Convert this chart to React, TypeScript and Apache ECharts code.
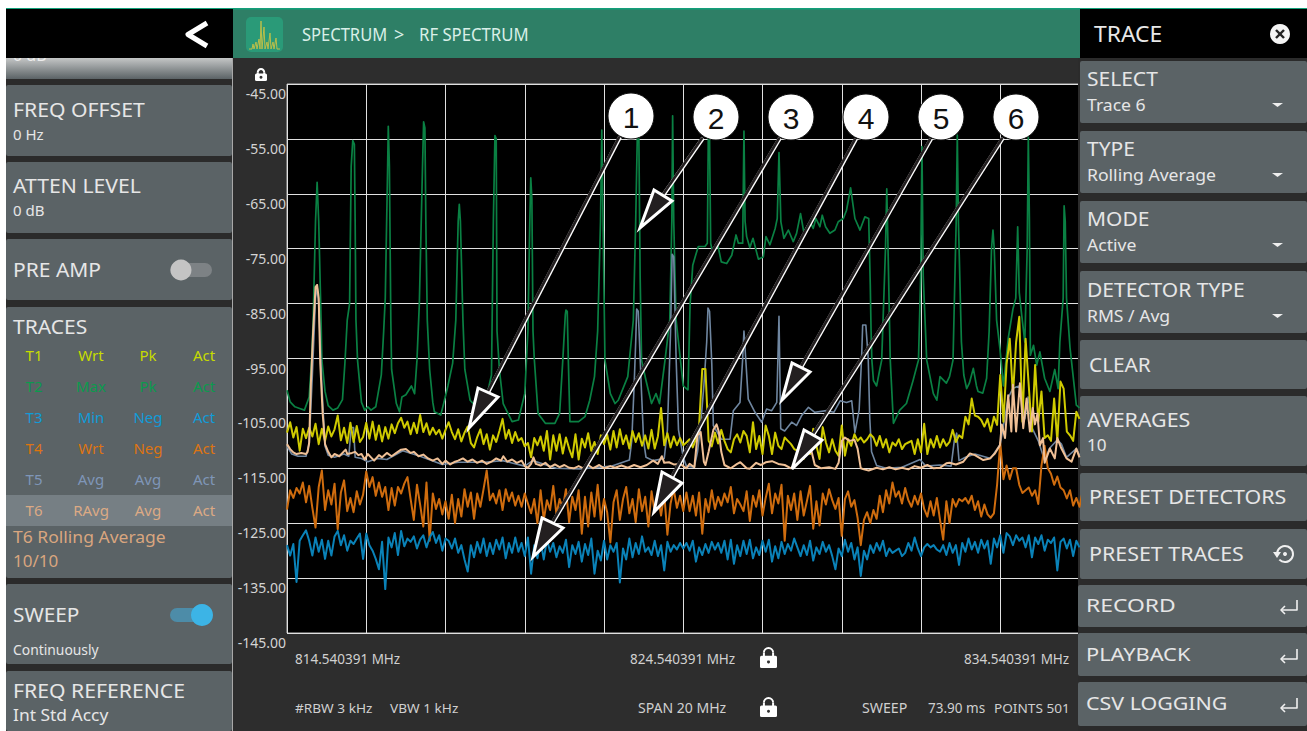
import React, { useEffect, useRef } from "react";
import * as echarts from "echarts";

const yTicks = [-145, -135, -125, -115, -105, -95, -85, -75, -65, -55, -45];
const freqLabels = ["814.540391 MHz", "824.540391 MHz", "834.540391 MHz"];

// T1 write, detector peak: one value every 2 sweep points
const yellowLeft = [-108.5,-106.6,-109.4,-107.5,-111.8,-107.8,-109.5,-107.6,-109.2,-106.9,-110.6,-107.8,-110,-107.4,-109.2,-107.9,-105.4,-109.9,-107.6,-110.4,-106.7,-110.2,-107.3,-110.2,-109.3,-106.7,-109.6,-106.5,-109.8,-107.2,-110.1,-107.5,-109.6,-107,-108.6,-106.8,-105.8,-107.6,-106.5,-108.8,-106.7,-108.6,-105.3,-108.4,-106.8,-108.9,-107.6,-108.8,-108,-109.6,-108,-106.6,-108.4,-109.7,-107.9,-110.1,-108.5,-107.4,-110.4,-111.2,-109.3,-107.9,-110.6,-108.8,-111.6,-109,-110.2,-108.2,-106,-109.6,-108,-110.4,-108.4,-110,-109.5,-111,-110.4,-113,-109.5,-110.8,-109.2,-111.8,-108.2,-113.4,-109,-111.8,-108.8,-112.3,-109.4,-111.4,-113,-108.8,-113.4,-109.6,-111.2,-108.6,-111.8,-110.2,-112.4,-109,-110.6,-108.9,-111.6,-108.2,-111.2,-107.9,-110.6,-109,-111.4,-108.2,-110.2,-108.6,-110.9,-109,-111.4,-108,-111.4,-109.2,-104,-110.8,-108.6,-111.2,-109.2,-110.8,-109.5,-110.8];
const yellowRight = [-110.3,-109.7,-111.2,-109.7,-107.2,-96.9,-96.9,-110,-111,-108.5,-110.5,-108,-110,-111.5,-112.1,-109.7,-108.8,-110.3,-108.2,-109.1,-112.1,-106.6,-111.5,-109.1,-112.4,-107.2,-109.1,-112.4,-108.5,-110.9,-111.5,-109.4,-110,-110.6,-111.5,-111.8,-110.3,-113.3,-109.4,-112.4,-107.8,-110.9,-113.3,-107.5,-110.3,-112.1,-109.7,-111.8,-112.7,-107.2,-112.7,-109.7,-110.9,-108.8,-110,-109.4,-110.3,-109.7,-108.8,-109.4,-110.9,-109.1,-111.2,-109.7,-112.1,-110.3,-110.9,-109.7,-111.5,-110.6,-110.3,-110,-112.4,-109.7,-112.1,-106.9,-112.4,-109.7,-111.2,-109.1,-111.2,-109.7,-110.9];
const yellowTail = [-110.2,-108,-110.2,-109,-109.5,-105.6,-107,-102.3,-105.4,-105.6,-106.2,-107.4,-106,-108.3,-105.6,-107.1,-98,-106.5,-96,-91.4,-101.7,-92,-87.4,-106.5,-91.4,-100,-108.3,-96.2,-106.5,-101,-109.5,-109,-110,-102.3,-110,-99.2,-100.5,-108.3,-109,-110,-104.7,-106];

// T4 write, detector negative
const orangeLeft = [-122.5,-119,-120.4,-118.6,-119.6,-117.6,-121.2,-118.2,-122.2,-125.8,-118.4,-115.4,-122.6,-119,-121.6,-117.8,-126.1,-119.4,-117.2,-122.8,-120.4,-123,-119.2,-121.6,-119.8,-115.6,-118.4,-116.6,-120,-117.6,-120.2,-118.4,-122.6,-118.6,-121.8,-118.4,-119.6,-117.8,-116.6,-120.6,-124.4,-118,-121.6,-125.6,-117.6,-128.2,-119.6,-122.4,-120.6,-123.4,-121,-124.2,-119.8,-125,-120.6,-123.8,-118.8,-122,-119.4,-124.2,-119.6,-122,-118.8,-115.4,-120.8,-119.6,-121.4,-119,-122.6,-118.8,-121,-119.4,-121.8,-120,-122,-119.6,-121.4,-123.2,-120.6,-125,-119,-124.4,-120.8,-122.6,-118.2,-123.4,-120.6,-122.2,-118.8,-124.8,-120.2,-122.6,-119,-126.9,-120.2,-125.6,-119.4,-123.8,-118,-124.4,-120.6,-123,-128.5,-121.2,-119,-124.4,-120.6,-118.4,-123.2,-120.6,-124.8,-118.8,-122.8,-120.2,-125.6,-119.2,-123,-120,-123.6,-119.6,-127.1,-121.4,-118.8,-122.2,-120,-122.8];
const orangeRight = [-119.4,-122.8,-120,-123.6,-119.4,-126.9,-120.6,-123,-119,-122.4,-120.2,-121.8,-119.6,-121.2,-118.4,-123.2,-120.6,-121.6,-122.8,-119.2,-124.6,-120,-122,-119,-123.6,-120.4,-117.8,-123.2,-119.6,-121.4,-118,-128.2,-120,-122.6,-119.6,-124.4,-119.2,-123.6,-121,-118.2,-126,-121,-125.4,-119.6,-121.6,-118.8,-120.8,-122.4,-120.4,-127.3,-120.6,-119.2,-122,-120.8,-124,-129,-124.4,-123,-125,-122.6,-124.2,-120,-123,-119,-121.4,-117.6,-120.2,-119.2,-121.4,-118.6,-120.8,-122,-120,-121.6,-119.6,-122.4,-123.8,-121,-123.6,-120.4,-124.4,-128,-121,-125,-120.6,-122,-120.6,-121,-120.4,-121.4,-120,-122.6,-121,-123.8,-121.6,-123.4,-124,-123.2,-118,-110.3,-117,-114.5,-117,-115,-115,-118,-119.5,-119,-118.5,-120,-119,-121.5,-114.5,-110.9,-115,-116,-118,-116.5,-118.5,-119,-120.5,-119,-121.8,-120.4,-122,-119.2,-120.8];

// T3 min hold, detector negative
const blueLeft = [-129,-130.9,-128.8,-135.7,-128.2,-127.2,-126.3,-128.2,-130.9,-127.6,-130.2,-128,-131.5,-128.2,-130.9,-127.4,-126.4,-129,-127.2,-130,-128.2,-128.8,-127.8,-126.9,-131.5,-126.9,-129,-130,-131.5,-133.4,-128.4,-137,-127.6,-129.4,-126.8,-130.8,-126.4,-129.2,-127.8,-128.4,-127.4,-129.6,-128,-127.2,-129.4,-127.6,-126.6,-128.6,-127.2,-130,-127.8,-128.2,-129.6,-127.8,-130.4,-129,-131.6,-133.8,-129,-131.2,-128.4,-130.4,-127.8,-131,-128.6,-130.6,-128,-129.8,-127.6,-131.4,-128.6,-130.4,-127.6,-130.2,-128.6,-131,-127.6,-134.2,-129,-131.4,-128.2,-131.6,-128,-130.2,-128.6,-131.2,-129.2,-130.4,-128,-133,-129,-130.6,-128.4,-132,-128.8,-130.8,-127.8,-134.2,-130,-131.8,-128.2,-131.6,-129,-130.2,-128.6,-135.8,-129.6,-131.6,-127.8,-131.2,-128.6,-130.6,-127.4,-130.2,-129.4,-130.8,-128.2,-131,-129,-133.6,-128.4,-130.2,-129,-129.8,-128.6,-129.6];
const blueRight = [-128.6,-130,-128.2,-132,-129.4,-130.8,-128.8,-130.4,-128.4,-129.8,-128.6,-130.4,-128.2,-131.6,-128,-132.4,-129,-131,-128.2,-130.6,-128,-131.4,-129.4,-130.8,-128.2,-130.2,-128,-132,-129.2,-131.4,-128.4,-130.6,-128.8,-130,-127.8,-129.4,-131,-129,-130.8,-128.2,-131.8,-129.4,-130.6,-128.4,-130.2,-129,-131,-133.4,-129.6,-131,-128,-130.2,-128.6,-131.6,-129.4,-134.6,-130,-131.6,-129,-130.4,-128.6,-130,-128.2,-131,-129.6,-130.4,-130,-129.6,-131,-130.4,-128.6,-130,-127.6,-129.6,-131,-129.4,-128.8,-129.4,-129,-129.8,-130.2,-129,-130.8,-128.6,-130.4,-129,-132.6,-128.6,-130.2,-127.8,-129.8,-128.4,-130.4,-128,-129.6,-128.2,-132.4,-127.8,-129.4,-127.2,-130.4,-126.8,-127.4,-129,-127.2,-128.2,-127.6,-129.4,-127.2,-131.2,-127.6,-128.8,-127.2,-130,-128,-128.6,-127.6,-133.6,-128.4,-127.8,-129.6,-128,-131,-128.2,-129.4];

// T2 max hold: [sweep point, dBm]
const greenTrace = [[0,-100.8],[2,-102.9],[5,-103.8],[8,-104.1],[11,-104.4],[14,-102],[15.5,-95.3],[16.5,-88],[18,-70],[19,-62.9],[20,-70],[21.5,-88],[22,-95.3],[24,-101],[26,-103.6],[29,-104.4],[32,-104],[35,-102.5],[36.5,-96],[38,-88],[39.5,-85],[40.5,-60],[41.5,-55.3],[42.5,-56],[43,-70],[43.5,-88],[44.5,-95.3],[46,-100],[47,-103],[49,-104.4],[51,-103.8],[53,-104.4],[56,-103.8],[59.5,-98],[61,-90],[62,-84],[63.5,-60],[63.9,-52.7],[64.6,-60],[65.5,-88],[66,-97],[69,-103.2],[71,-104.7],[72.5,-102],[75,-101.6],[78.5,-100],[80.5,-101.4],[82,-95.3],[83.5,-85],[85.5,-60],[86.2,-51.9],[87,-53],[87.6,-70],[88.5,-88],[90,-97],[92,-103],[93,-104.7],[97,-105.3],[99,-103],[101.5,-100],[104.5,-95.9],[106.5,-88],[108,-70],[108.7,-66.9],[109.4,-70],[111,-88],[112.2,-97],[115.5,-102.6],[119.5,-103.8],[125,-103.2],[129,-98],[130.2,-70],[131.2,-54.4],[132,-55],[132.5,-90],[134,-97],[136.4,-103.2],[138.4,-104.4],[142,-106.5],[146,-106.2],[150,-101.4],[152,-90],[153.2,-70],[153.8,-62.1],[154.5,-66],[155.2,-90],[156,-95],[158.4,-105],[163,-106.8],[169,-106.8],[172,-105],[174,-95.3],[175.6,-87],[176,-86.2],[176.8,-86.4],[177.5,-95.3],[178.5,-106.5],[184,-106.5],[188,-105.6],[191,-102.6],[194,-98.3],[196,-90],[197.8,-70],[198.6,-53.4],[199.4,-70],[200.6,-95.3],[204,-101.4],[207,-103.2],[209,-102.6],[215,-98.3],[218.5,-88],[220,-70],[221,-54.8],[222,-55],[222.8,-80],[223.7,-95.3],[226.5,-99],[230,-103.2],[232.8,-101.4],[235,-103.2],[238.5,-95.3],[241.5,-88],[242.8,-70],[243.3,-50.8],[244,-70],[245.5,-88],[247,-92],[250,-100],[253,-100.7],[254.3,-85.3],[256,-78],[257.5,-76.5],[259.5,-74.6],[263.7,-74.6],[265.2,-74],[265.8,-54.7],[266.6,-55],[267.3,-74],[268,-75],[272,-74.6],[274,-77.4],[277.4,-77.7],[280.6,-76.2],[283.3,-72.5],[284.8,-74],[287.5,-74],[288.3,-53.6],[289,-70],[290,-72.8],[292,-74.8],[294,-73.1],[297.4,-76.9],[300.5,-76.5],[302.2,-72.8],[304.7,-74.3],[308,-71.3],[309.3,-69.5],[310.4,-57.5],[311.6,-70.1],[313.5,-73.1],[316.3,-71.6],[319.4,-73.7],[321.5,-72.2],[324,-68.6],[326,-71.9],[330,-70.1],[332,-71.3],[333.7,-69.5],[336.2,-71],[337.7,-68.9],[339.8,-71],[342.5,-72.2],[345.7,-71.6],[347.8,-70.1],[351,-69.5],[353,-68],[355.6,-63.9],[358.3,-69.5],[361.5,-71.6],[364.6,-69.2],[367,-69.5],[368,-81.6],[368.5,-90],[369,-95.3],[370,-99],[372,-100],[374,-97],[375.2,-95.3],[377.6,-75],[378.4,-64.1],[379.2,-75],[380.6,-95.3],[382.6,-106.8],[386.6,-104.4],[390.8,-103.2],[395,-99],[398.4,-95.3],[399.8,-80],[400.6,-56.4],[401.4,-80],[403.6,-95.3],[407.8,-101.4],[410,-102.6],[412,-98.3],[416,-99.5],[418,-98.3],[420.2,-95.3],[422.2,-70],[422.9,-54.3],[423.6,-70],[425.5,-92],[427,-98],[428.8,-100.5],[430.5,-99.5],[433,-96.8],[435,-100],[436,-101],[439,-101.3],[441.4,-98.6],[443,-90],[444.5,-75],[445.4,-71.6],[446.2,-75],[447.7,-88],[449.8,-93.2],[452,-100],[455,-91.4],[458,-86],[459.8,-84],[461,-71],[462,-83],[463.5,-87],[465.5,-92],[467,-75],[467.7,-54.6],[468.4,-70],[469,-94.4],[471,-92.6],[473,-96.2],[475,-93.8],[478,-98.6],[481.3,-101],[484.4,-97],[486.5,-100.5],[487.6,-92],[489.7,-84],[490.3,-67.2],[491,-70],[491.8,-84],[494,-93],[498,-103.5],[500,-104]];

// T5 average: [sweep point, dBm]
const greyTrace = [[0,-111],[3,-112.4],[7,-112.8],[12,-112.8],[14,-110.5],[16,-98],[18,-84],[19,-82],[20,-85],[22,-100],[24,-111],[26,-112.6],[30,-113],[36,-112.4],[39,-112.8],[40.5,-107.6],[42,-107.6],[43,-113],[47,-113.2],[51,-113.8],[57,-113.2],[63,-113.4],[73,-111.8],[84,-112.8],[98,-114.3],[108,-113.9],[125,-113.9],[136,-113.6],[150,-114.6],[155,-113.6],[170,-115],[185,-115.1],[205,-114.6],[216,-113.5],[217.5,-110],[219,-100],[220,-92],[220.6,-86],[221.6,-86.4],[222.4,-92],[223.5,-100],[225,-110],[226.5,-113],[231,-113.6],[238,-113.2],[240,-108],[242,-90],[243,-76],[244,-76.5],[245.5,-95],[247,-108],[250,-113],[252,-114.6],[257,-114.8],[259,-112],[261,-107],[263,-100],[264.8,-92],[265.6,-85.8],[266.6,-86.4],[268,-96],[269,-107.2],[274,-109.7],[279.5,-109.7],[281.6,-104.5],[285.8,-103],[287.5,-95],[288.3,-90],[289.4,-95],[291,-102.4],[295.3,-104.8],[299.5,-106.6],[302.6,-104.2],[305.8,-104.5],[309,-103],[310.4,-87.3],[311.5,-107.8],[314,-108.2],[318.4,-106.6],[321.5,-107.2],[324.7,-105.4],[329,-103.9],[333,-104.8],[340.4,-104.5],[345,-104.8],[349,-102.7],[353,-103],[356.3,-102.7],[358.3,-108.5],[361,-104.3],[362.5,-95],[363.2,-88.9],[365.2,-88.9],[366.7,-95],[367.7,-106],[368.8,-112],[372,-114.5],[378,-115],[388,-114.8],[399.4,-113.4],[403,-114.6],[412,-114.4],[419,-114.6],[421,-110],[422.5,-108.6],[424,-113.6],[428,-113],[434,-112.4],[444,-113.2],[450,-110.6],[455,-102.2],[458,-100.4],[462,-100],[465.5,-106],[467.6,-102],[470,-107.6],[474,-110],[478,-113.6],[481,-111.4],[486,-109.8],[488.6,-110.6],[491.8,-113],[498,-111.4],[500,-112.6]];

// T6 rolling average: [sweep point, dBm]
const peachTrace = [[0,-110.6],[2,-111.5],[4,-112.1],[6,-112.4],[9,-112.2],[12,-112.4],[13,-112],[14,-110.3],[15,-100],[16.5,-90],[18,-82],[19,-81.6],[20,-84],[21,-96],[22.5,-105],[24,-110.6],[26,-112],[28,-113],[30,-112.4],[33,-112.8],[35,-112.2],[37,-111.6],[38,-112.4],[41,-112.2],[43,-112],[45,-112.6],[47,-112.4],[49,-113.4],[51,-112.4],[53,-113],[55,-113.6],[58,-112.6],[60,-113],[63,-112.2],[66,-112.8],[69,-112.2],[72,-111.6],[75,-111.5],[78,-112.2],[80,-112],[83,-112.8],[86,-112.5],[89,-113.2],[92,-113.6],[95,-113.2],[98,-114.2],[100,-113.6],[103,-114.3],[106,-113.8],[108,-113.6],[111,-113.2],[114,-113.8],[117,-113.4],[120,-114],[123,-113.6],[126,-114.2],[129,-113.8],[132,-113.2],[135,-113.6],[136.5,-112.8],[139,-113.8],[142,-113.4],[145,-114],[148,-113.6],[150,-114.6],[152,-114.9],[154,-114.2],[155.5,-113],[157,-114.2],[160,-114.5],[163,-114],[166,-114.8],[169,-114.3],[172,-114.8],[175,-114.4],[178,-114.9],[181,-115],[184,-114.6],[187,-115],[190,-114.4],[193,-115],[197,-114.4],[200,-115],[204,-114.6],[207,-114.9],[211,-114.5],[215,-114.9],[219,-114.4],[223,-114.8],[227,-114.4],[231,-113.6],[234,-114.2],[236.5,-112.8],[238,-114],[241,-113.9],[244,-114.3],[248,-114.2],[252,-115],[254,-114.2],[257,-114.8],[259,-109],[261,-108.4],[263,-113.8],[264,-114.4],[266,-112],[269,-108],[271,-107],[272.5,-108.4],[274,-112],[276,-114.4],[280,-115],[284,-114.2],[286,-113.9],[290,-115],[292,-115.1],[296,-114],[299,-114.4],[302,-113.9],[306,-113.7],[310,-114.2],[314,-114.4],[318,-115],[321,-114.2],[326,-112.6],[328,-110],[331,-112],[333,-114.4],[337,-115],[342,-114.8],[346,-115.1],[348,-114],[350,-110],[352,-109.4],[355,-110],[358,-109.8],[360,-111.4],[362,-115],[364,-115.2],[367,-115.4],[372,-114.9],[376,-115.2],[380,-114.8],[384,-115.2],[388,-114.9],[392,-115.2],[396,-114.6],[400,-114.9],[404,-114.4],[408,-115],[412,-114.9],[416,-114.1],[418,-114],[422,-114.3],[426.7,-113.8],[430.9,-112.3],[434,-112.6],[439.3,-113.5],[443.5,-113.2],[446.6,-112.3],[449.8,-110.8],[451,-107],[453,-109.5],[455,-101.7],[457,-108.3],[458,-99.8],[460,-108.3],[462.4,-99.5],[464.5,-107.7],[466.6,-102.3],[468.7,-108.3],[470.5,-104],[471.9,-107],[473.5,-105],[475,-110.8],[477,-109.5],[478,-114],[481.3,-111.4],[484.4,-113.2],[486,-109.5],[488.6,-111.4],[491.8,-113.2],[495,-113.8],[498,-111.4],[500,-113]];

const traceRows = [
  { color: "#c7dc00", cells: ["T1", "Wrt", "Pk", "Act"] },
  { color: "#0c9a4e", cells: ["T2", "Max", "Pk", "Act"] },
  { color: "#119bd8", cells: ["T3", "Min", "Neg", "Act"] },
  { color: "#dd7412", cells: ["T4", "Wrt", "Neg", "Act"] },
  { color: "#7f96b8", cells: ["T5", "Avg", "Avg", "Act"] },
  { color: "#dcaa84", cells: ["T6", "RAvg", "Avg", "Act"] },
];

const leftPanels = [
  [85, 156], [162, 233], [239, 300], [307, 578], [584, 664], [671, 731],
];
const rightPanels = [
  [61, 123, 1080], [131, 193, 1080], [201, 263, 1080], [271, 333, 1080], [340, 389, 1080], [396, 466, 1080],
  [473, 521, 1080], [529, 579, 1080], [585, 627, 1078], [633, 676, 1078], [682, 726, 1078],
];

const arrows = [
  { n: "1", c: [631, 116], from: [620, 137], tip: [469, 428], a: [478, 388], b: [498, 397] },
  { n: "2", c: [716, 117], from: [703, 138], tip: [640, 228], a: [654, 190], b: [672, 201] },
  { n: "3", c: [791, 117], from: [780, 138], tip: [533, 557], a: [542, 518], b: [563, 528] },
  { n: "4", c: [866, 117], from: [856, 139], tip: [654, 512], a: [662, 472], b: [682, 483] },
  { n: "5", c: [941, 117], from: [931, 139], tip: [782, 400], a: [792, 363], b: [810, 372] },
  { n: "6", c: [1016, 117], from: [1003, 138], tip: [792, 469], a: [804, 430], b: [822, 440] },
];

const FONT = "'Noto Sans', sans-serif";

function T(text: string, x: number, y: number, size: number, fill: string, scaleX = 1, align = "left", family = FONT) {
  return {
    type: "text", x, y: y - 1, scaleX, z: 5,
    style: { text, fontSize: size, fontFamily: family, fill, align, verticalAlign: "middle" },
  };
}
function R(x: number, y: number, w: number, h: number, fill: any, r = 0, z = 1) {
  return { type: "rect", z, shape: { x, y, width: w, height: h, r }, style: { fill } };
}
function L(pts: number[][], stroke: string, lineWidth = 1, z = 6) {
  return { type: "polyline", z, shape: { points: pts }, style: { stroke, lineWidth, fill: "none", lineJoin: "round" } };
}
// padlock spanning top..bottom, centred on cx
function lock(cx: number, top: number, bottom: number, w: number) {
  const h = bottom - top;
  const bodyTop = top + h * 0.42;
  const r = w * 0.27;
  const shackleY = top + r + 1;
  return [
    { type: "arc", z: 6, shape: { cx, cy: shackleY, r, startAngle: Math.PI, endAngle: 0, clockwise: true }, style: { stroke: "#fff", lineWidth: 2, fill: "none" } },
    L([[cx - r, shackleY], [cx - r, bodyTop + 1]], "#fff", 2),
    L([[cx + r, shackleY], [cx + r, bodyTop + 1]], "#fff", 2),
    R(cx - w / 2, bodyTop, w, bottom - bodyTop, "#fff", 1.5, 6),
    { type: "circle", z: 7, shape: { cx, cy: (bodyTop + bottom) / 2, r: 1.5 }, style: { fill: "#333" } },
  ];
}
function enter(y: number) {
  return [L([[1297, y - 6], [1297, y + 4], [1281, y + 4]], "#f0f0f0", 1.6), L([[1285, y], [1281, y + 4], [1285, y + 8]], "#f0f0f0", 1.6)];
}
function caret(y: number) {
  return { type: "polygon", z: 6, shape: { points: [[1272, y - 2], [1283, y - 2], [1277.5, y + 2]] }, style: { fill: "#eee" } };
}

function buildGraphics() {
  const panel = "#5b6366";
  const txt = "#e6e6e6";
  const g: any[] = [];
  g.push(R(0, 0, 1307, 8, "#fff"), R(0, 0, 6, 731, "#fff"));
  g.push(R(6, 8, 1301, 1.5, "#12a07a", 0, 2));
  g.push(R(6, 58, 227, 673, "#2b2b2b"));
  g.push(R(1078, 58, 229, 673, "#2b2b2b"));
  g.push(R(233, 9, 847, 49, "#2e7f66"));
  g.push(R(232, 58, 1, 673, "#a8a8a8", 0, 3));
  // partly scrolled panel
  g.push(R(6, 58, 226, 21, new echarts.graphic.LinearGradient(0, 0, 0, 1, [{ offset: 0, color: "#c4c6c6" }, { offset: 1, color: panel }])));
  g.push({ ...T("0 dB", 13, 56, 16, "#ececec"), z: 2 });
  g.push(R(6, 9, 227, 49, "#000", 0, 4), R(1080, 9, 227, 49, "#000", 0, 4));
  for (const [a, b] of leftPanels) g.push(R(6, a, 226, b - a, panel, 2));
  for (const [a, b, x] of rightPanels) g.push(R(x, a, 1307 - x, b - a, panel, 2));
  g.push(R(6, 495, 226, 31, "#767f84", 0, 2));

  // left
  g.push(L([[207, 23], [188, 34.5], [207, 46]], "#fff", 5));
  g.push(T("FREQ OFFSET", 13, 110, 20, txt, 1.06), T("0 Hz", 13, 135, 15, txt));
  g.push(T("ATTEN LEVEL", 13, 186, 20, txt, 1.06), T("0 dB", 13, 211, 15, txt));
  g.push(T("PRE AMP", 13, 270, 20, txt, 1.05));
  g.push(R(170, 263, 42, 14, "#7d8285", 7, 3), { type: "circle", z: 4, shape: { cx: 181, cy: 270, r: 10.5 }, style: { fill: "#c4c4c4" } });
  g.push(T("TRACES", 13, 327, 20, txt, 1.05));
  const colX = [34, 91, 148, 204];
  traceRows.forEach((row, i) => {
    row.cells.forEach((c, j) => g.push(T(c, colX[j], 356 + i * 31, 15, row.color, 1, "center")));
  });
  g.push(T("T6 Rolling Average", 13, 538, 17, "#d9a67f", 1.03), T("10/10", 13, 561, 17, "#d9a67f"));
  g.push(T("SWEEP", 13, 615, 20, txt, 1.04));
  g.push(R(170, 608, 42, 14, "#4d8ca8", 7, 3), { type: "circle", z: 4, shape: { cx: 202, cy: 615, r: 11 }, style: { fill: "#3cb4e6" } });
  g.push(T("Continuously", 13, 650, 14, txt, 0.99));
  g.push(T("FREQ REFERENCE", 13, 691, 20, txt, 1.06), T("Int Std Accy", 13, 716, 16, txt, 1.09));

  // header
  g.push(R(246, 17, 37, 35, "#2a9a78", 5, 3));
  g.push(L([[249, 49], [252, 49], [253, 44], [254, 49], [256, 42], [257, 49], [259, 39], [260, 49], [261, 21], [262, 49], [264, 27], [265, 49], [267, 42], [268, 49], [270, 33], [271, 49], [273, 42], [274, 49], [276, 38], [277, 49], [280, 49]], "#b9bf4a", 1));
  g.push(T("SPECTRUM", 302, 35, 19, "#d9efe8", 0.87), T(">", 394, 35, 18, "#d9efe8"), T("RF SPECTRUM", 419, 35, 19, "#d9efe8", 0.88));

  // bottom info
  const info = "#d0d0d0";
  g.push(T(freqLabels[0], 295, 660, 13.5, info, 1), T(freqLabels[1], 630, 660, 13.5, info, 1), T(freqLabels[2], 964, 660, 13.5, info, 1));
  g.push(T("#RBW 3 kHz", 295, 709, 13.5, info, 1.01), T("VBW 1 kHz", 390, 709, 13.5, info, 1.01), T("SPAN 20 MHz", 638, 709, 13.5, info, 1.04));
  g.push(T("SWEEP", 862, 709, 13.5, info, 1.05), T("73.90 ms", 928, 709, 13.5, info), T("POINTS 501", 994, 709, 13.5, info, 1.01));
  g.push(...lock(768.5, 647, 668, 17), ...lock(768.5, 697, 717, 17), ...lock(261, 68, 81, 12));

  // right
  g.push(T("TRACE", 1094, 35, 21, "#e8e8e8", 1.09));
  g.push({ type: "circle", z: 6, shape: { cx: 1280, cy: 34, r: 10 }, style: { fill: "#f4f4f4" } });
  g.push(L([[1276, 30], [1284, 38]], "#222", 2.4, 7), L([[1284, 30], [1276, 38]], "#222", 2.4, 7));
  const rows: [string, string, number][] = [["SELECT", "Trace 6", 79], ["TYPE", "Rolling Average", 149], ["MODE", "Active", 219], ["DETECTOR TYPE", "RMS / Avg", 290]];
  rows.forEach(([a, b, y]) => {
    g.push(T(a, 1087, y, 20, txt, 1.05), T(b, 1087, y + 27, 16, txt, 1.1), caret(y + 26));
  });
  g.push(T("CLEAR", 1089, 365, 20, txt, 1.04));
  g.push(T("AVERAGES", 1087, 420, 20, txt, 1.07), T("10", 1087, 446, 16, txt, 1.07));
  g.push(T("PRESET DETECTORS", 1089, 497, 20, txt, 1.07));
  g.push(T("PRESET TRACES", 1089, 554, 20, txt, 1.07));
  g.push({ type: "arc", z: 6, shape: { cx: 1285, cy: 554, r: 8, startAngle: -Math.PI * 0.95, endAngle: Math.PI * 0.75, clockwise: true }, style: { stroke: "#f0f0f0", lineWidth: 2, fill: "none" } });
  g.push({ type: "polygon", z: 6, shape: { points: [[1273, 552], [1281, 552], [1277, 558]] }, style: { fill: "#f0f0f0" } });
  g.push({ type: "circle", z: 6, shape: { cx: 1285, cy: 554, r: 2 }, style: { fill: "#f0f0f0" } });
  g.push(T("RECORD", 1086, 606, 18, txt, 1.27), T("PLAYBACK", 1086, 655, 18, txt, 1.21), T("CSV LOGGING", 1086, 704, 18, txt, 1.19));
  g.push(...enter(606), ...enter(655), ...enter(704));

  // callouts
  arrows.forEach(({ n, c, from, tip, a, b }) => {
    const mid = [(a[0] + b[0]) / 2, (a[1] + b[1]) / 2];
    g.push(L([from, mid], "#fff", 4, 50));
    g.push(L([[from[0] - 0.7, from[1] - 0.3], [mid[0] - 0.7, mid[1] - 0.3]], "#231f20", 2.8, 51));
    g.push({ type: "polygon", z: 52, shape: { points: [tip, a, b] }, style: { fill: "#231f20", stroke: "#fff", lineWidth: 3, lineJoin: "miter" } });
    g.push({ type: "circle", z: 53, shape: { cx: c[0], cy: c[1], r: 23 }, style: { fill: "#fff", stroke: "#111", lineWidth: 1 } });
    g.push({ ...T(n, c[0], c[1] + 2, 30, "#111", 1, "center", "'Liberation Sans', sans-serif"), z: 54 });
  });
  return g;
}

const line = (name: string, data: any[], color: string, width: number) => ({
  name, type: "line", data, symbol: "none", silent: true,
  lineStyle: { color, width, join: "round" }, itemStyle: { color },
});
const every2 = (vals: number[]) => vals.map((v, i) => [i * 2, v]);

export default function App() {
  const ref = useRef<HTMLDivElement>(null);
  useEffect(() => {
    const chart = echarts.init(ref.current!, null, { renderer: "svg" });
    chart.setOption({
      animation: false,
      backgroundColor: "#2d2d2d",
      grid: { left: 287, top: 84, width: 792.5, height: 549, show: true, backgroundColor: "#000", borderColor: "#bdbdbd", borderWidth: 1, containLabel: false },
      xAxis: {
        type: "value", min: 0, max: 500, interval: 50,
        axisLabel: { show: false }, axisTick: { show: false }, axisLine: { show: false },
        splitLine: { show: true, lineStyle: { color: "#e0e0e0", width: 1 } },
      },
      yAxis: {
        type: "value", min: -145, max: -45,
        axisLine: { show: false },
        axisTick: { show: false, customValues: yTicks },
        axisLabel: {
          customValues: yTicks, formatter: (v: number) => v.toFixed(2),
          color: "#d4d4d4", fontSize: 14, fontFamily: FONT, verticalAlign: "top", lineHeight: 19, margin: 1, align: "right",
        },
        splitLine: { show: true, lineStyle: { color: "#e0e0e0", width: 1 } },
      },
      series: [
        line("T2", greenTrace, "#0a8043", 1.7),
        line("T5", greyTrace, "#6f86a0", 1.6),
        line("T1", every2([...yellowLeft, ...yellowRight, ...yellowTail]), "#cfca00", 2),
        line("T4", every2([...orangeLeft, ...orangeRight]), "#cf6c0e", 2),
        line("T3", every2([...blueLeft, ...blueRight]), "#0a82b8", 2),
        line("T6", peachTrace, "#f0c096", 2),
      ],
      graphic: { elements: buildGraphics() },
    });
    return () => chart.dispose();
  }, []);
  return <div ref={ref} style={{ position: "fixed", left: 0, top: 0, width: 1307, height: 731 }} />;
}
